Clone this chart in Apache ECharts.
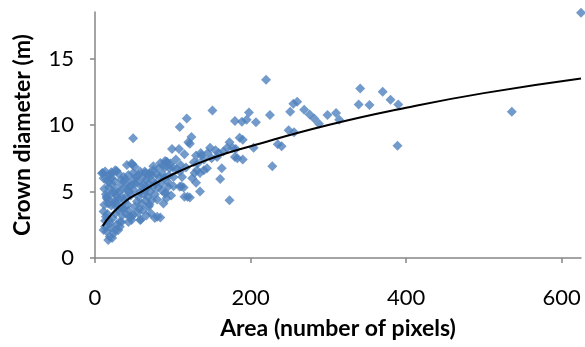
<!DOCTYPE html>
<html>
<head>
<meta charset="utf-8">
<script src="https://cdn.jsdelivr.net/npm/echarts@6/dist/echarts.min.js"></script>
<style>
  html, body { margin: 0; padding: 0; background: #fff; }
  #chart { width: 585px; height: 347px; }
</style>
</head>
<body>
<div id="chart"></div>
<script>
// tree points: [area in pixels, crown diameter in m]
const trees = [
  [625, 18.45], [536, 11.0], [389, 8.45], [390, 11.55], [380, 11.9], [370, 12.5],
  [353, 11.5], [341, 12.75], [339, 11.55], [314, 10.4], [310, 10.9], [299, 10.75],
  [288, 10.1], [282, 10.5], [276, 10.8], [269, 11.15], [260, 11.75], [255, 11.6],
  [251, 11.0], [249, 9.6], [256, 9.45], [240, 8.4], [235, 8.55], [228, 6.9],
  [225, 10.75], [220, 13.4], [207, 10.2], [198, 10.95], [195, 10.4], [189, 10.25],
  [180, 10.3], [151, 11.1], [118, 10.5], [109, 9.85], [49, 9.0], [173, 8.7],
  [186, 9.05], [190, 8.9], [177, 8.3], [181, 8.2], [148, 8.3], [159, 7.9],
  [157, 7.6], [180, 7.6], [183, 7.5], [190, 7.4], [204, 8.3], [163, 6.75],
  [161, 5.95], [136, 7.9], [137, 7.7], [144, 6.75], [140, 6.6], [135, 6.4],
  [135, 5.0], [173, 4.35], [124, 9.1], [120, 8.7], [122, 8.6], [130, 7.7],
  [127, 7.2], [131, 6.6], [128, 6.4], [122, 4.55], [119, 4.6], [130, 5.65],
  [111, 5.4], [114, 5.3], [99, 8.2], [108, 8.2], [93, 7.2], [90, 6.8],
  [96, 6.75], [105, 6.7], [109, 6.5], [101, 6.1], [101, 5.4], [109, 5.35],
  [91, 4.9], [92, 4.5], [98, 4.7], [84, 3.05], [77, 3.0], [72, 3.35],
  [59, 2.9], [70, 4.0], [65, 4.3], [73, 6.25], [75, 6.9], [79, 6.3],
  [83, 6.1], [87, 6.3], [65, 6.4], [61, 6.0], [56, 6.25], [49, 5.9],
  [48, 7.05], [39, 5.9], [41, 5.6], [36, 5.2], [30, 4.95], [34, 4.6],
  [28, 6.55], [30, 6.35], [21, 6.45], [20, 6.25], [10, 6.4], [11, 6.0],
  [15, 5.9], [17, 5.7], [15, 4.5], [17, 4.4], [24, 4.95], [28, 4.7],
  [26, 4.2], [21, 3.95], [32, 3.8], [36, 3.7], [43, 3.55], [11, 3.5],
  [14, 3.1], [18, 2.85], [26, 3.35], [11, 2.1], [15, 2.0], [24, 1.85],
  [30, 2.1], [17, 1.35], [19, 1.6], [32, 2.35], [34, 2.7], [45, 3.1],
  [47, 2.85], [49, 3.25], [43, 2.7], [51, 3.85], [54, 4.25], [56, 4.6],
  [58, 4.95], [60, 5.35], [62, 5.5], [64, 5.1], [68, 4.6], [73, 4.35],
  [77, 4.8], [81, 5.3], [86, 5.1], [94, 5.7], [34, 5.9], [43, 6.25],
  [49, 6.4], [58, 6.5], [45, 5.4], [66, 5.9], [70, 6.4], [84, 7.15],
  [90, 7.3], [9, 6.37], [13, 6.5], [19, 6.24], [21, 5.98], [26, 6.6],
  [41, 7.0], [47, 7.1], [51, 6.87], [64, 6.5], [69, 6.24], [75, 6.6],
  [82, 6.74], [88, 7.0], [92, 7.24], [97, 7.1], [15, 4.6], [21, 4.86],
  [17, 4.1], [26, 4.36], [41, 5.12], [47, 5.49], [54, 5.74], [69, 5.61],
  [75, 5.36], [30, 3.6], [36, 3.74], [62, 3.6], [69, 3.87], [90, 4.86],
  [94, 5.36], [88, 4.1], [13, 2.36], [19, 2.6], [26, 2.1], [32, 2.73],
  [47, 3.11], [58, 2.86],
  [12, 5.2], [14, 4.8], [18, 5.3], [22, 5.5], [25, 5.8], [27, 5.1],
  [33, 5.5], [37, 6.1], [38, 4.3], [40, 4.6], [42, 4.0], [44, 5.0],
  [46, 4.7], [50, 5.1], [52, 5.6], [53, 6.1], [55, 3.4], [57, 3.7],
  [60, 4.1], [63, 4.8], [67, 5.3], [71, 5.0], [74, 5.8], [78, 5.6],
  [80, 4.4], [85, 5.6], [89, 6.0], [95, 6.2], [100, 6.8], [104, 7.4],
  [110, 7.0], [115, 7.8], [16, 3.3], [20, 2.3], [23, 3.0], [28, 2.5],
  [22, 1.5], [13, 2.8], [25, 4.0], [31, 4.4], [35, 3.2], [40, 3.3],
  [66, 3.2], [80, 3.1], [12, 4.0], [112, 6.1], [117, 6.8], [125, 6.0],
  [132, 7.1], [140, 7.4], [145, 7.9], [150, 7.5], [155, 8.1], [165, 8.0],
  [170, 8.3], [115, 4.6]
];

// fitted trend line
const trendX = [10, 20, 40, 60, 100, 150, 200, 300, 400, 500, 625];
const trendY = [2.4, 3.2, 4.3, 5.0, 6.3, 7.5, 8.4, 10.0, 11.3, 12.4, 13.5];

const xTicks = [0, 200, 400, 600];
const yTicks = [0, 5, 10, 15];

const axisGray = '#868686';
const font = 'Lato, "Open Sans", sans-serif';

const chart = echarts.init(document.getElementById('chart'));

chart.setOption({
  animation: false,
  grid: { left: 95, right: 4, top: 12, bottom: 89, outerBoundsMode: 'none' },
  xAxis: {
    type: 'value',
    min: 0,
    max: 625,
    interval: 200,
    name: 'Area (number of pixels)',
    nameLocation: 'middle',
    nameGap: 59,
    nameTextStyle: { color: '#000', fontFamily: font, fontSize: 23, fontWeight: 'bold' },
    axisLine: { show: true, lineStyle: { color: axisGray, width: 1.5 } },
    axisTick: { show: true, length: 5, customValues: xTicks, lineStyle: { color: axisGray, width: 1.5 } },
    axisLabel: { customValues: xTicks, margin: 29, color: '#000', fontFamily: font, fontSize: 22 },
    splitLine: { show: false }
  },
  yAxis: {
    type: 'value',
    min: 0,
    max: 18.5,
    interval: 5,
    name: 'Crown diameter (m)',
    nameLocation: 'middle',
    nameGap: 61,
    nameTextStyle: { color: '#000', fontFamily: font, fontSize: 23, fontWeight: 'bold' },
    axisLine: { show: true, lineStyle: { color: axisGray, width: 1.5 } },
    axisTick: { show: true, length: 5, customValues: yTicks, lineStyle: { color: axisGray, width: 1.5 } },
    axisLabel: { customValues: yTicks, margin: 21, color: '#000', fontFamily: font, fontSize: 22 },
    splitLine: { show: false }
  },
  series: [
    {
      type: 'scatter',
      data: trees,
      symbol: 'diamond',
      symbolSize: 10,
      itemStyle: { color: '#4F81BD' }
    },
    {
      type: 'line',
      data: trendX.map((x, i) => [x, trendY[i]]),
      smooth: true,
      showSymbol: false,
      lineStyle: { color: '#000', width: 2 },
      z: 3
    }
  ]
});
</script>
</body>
</html>
